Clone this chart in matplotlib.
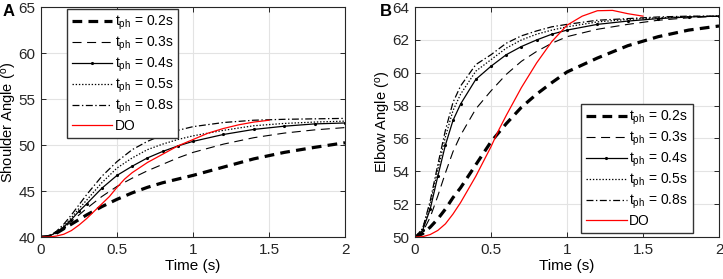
# -*- coding: utf-8 -*-
"""
Shoulder and elbow angle vs. time for several t_ph values and DO.
"""
import matplotlib
matplotlib.use('Agg')
import matplotlib.pyplot as plt

plt.rcParams['font.family'] = ['Liberation Sans', 'DejaVu Sans']
plt.rcParams['mathtext.fontset'] = 'custom'
plt.rcParams['mathtext.rm'] = 'Liberation Sans'
plt.rcParams['mathtext.it'] = 'Liberation Sans'
plt.rcParams['lines.scale_dashes'] = False

# time samples (s)
t = [0, 0.05, 0.1, 0.15, 0.2, 0.25, 0.3, 0.4, 0.5, 0.6, 0.7, 0.8, 0.9, 1.0, 1.2, 1.4, 1.6, 1.8, 2.0]
t_do = [0, 0.05, 0.1, 0.15, 0.2, 0.25, 0.3, 0.35, 0.4, 0.45, 0.5, 0.55, 0.6, 0.7, 0.8, 0.9, 1.0, 1.1, 1.2, 1.3, 1.4, 1.5]

# Shoulder angle (deg)
sh_02 = [40, 40.05, 40.4, 40.9, 41.4, 41.9, 42.4, 43.3, 44.1, 44.8, 45.4, 45.9, 46.3, 46.7, 47.6, 48.5, 49.2, 49.75, 50.25]
sh_03 = [40, 40.05, 40.4, 41.0, 41.7, 42.4, 43.1, 44.4, 45.5, 46.4, 47.2, 47.9, 48.6, 49.2, 50.1, 50.8, 51.3, 51.65, 51.9]
sh_04 = [40, 40.05, 40.5, 41.1, 41.9, 42.8, 43.6, 45.3, 46.7, 47.7, 48.6, 49.3, 49.9, 50.4, 51.15, 51.7, 52.05, 52.3, 52.4]
sh_05 = [40, 40.05, 40.5, 41.2, 42.1, 43.1, 44.0, 45.9, 47.5, 48.6, 49.5, 50.1, 50.6, 51.0, 51.6, 52.1, 52.35, 52.5, 52.6]
sh_08 = [40, 40.1, 40.6, 41.4, 42.4, 43.5, 44.6, 46.6, 48.2, 49.5, 50.4, 51.1, 51.6, 52.0, 52.45, 52.7, 52.8, 52.85, 52.9]
sh_do = [40, 40.0, 40.1, 40.3, 40.7, 41.3, 42.0, 42.8, 43.6, 44.4, 45.4, 46.3, 47.0, 48.1, 49.0, 49.9,
         50.6, 51.3, 51.8, 52.2, 52.5, 52.7]

# Elbow angle (deg)
el_02 = [50, 50.2, 50.6, 51.1, 51.7, 52.4, 53.0, 54.4, 55.8, 56.9, 57.9, 58.7, 59.4, 60.05, 60.9, 61.65, 62.2, 62.6, 62.85]
el_03 = [50, 50.3, 51.2, 52.5, 53.9, 55.2, 56.2, 57.8, 58.9, 59.9, 60.7, 61.3, 61.8, 62.2, 62.65, 62.95, 63.2, 63.35, 63.45]
el_04 = [50, 50.4, 51.7, 53.7, 55.6, 57.1, 58.1, 59.6, 60.4, 61.1, 61.6, 62.0, 62.35, 62.6, 62.95, 63.15, 63.3, 63.4, 63.45]
el_05 = [50, 50.5, 52.0, 54.1, 56.1, 57.7, 58.7, 60.1, 60.8, 61.5, 62.0, 62.35, 62.6, 62.8, 63.1, 63.25, 63.35, 63.42, 63.45]
el_08 = [50, 50.5, 52.2, 54.4, 56.5, 58.2, 59.2, 60.5, 61.1, 61.8, 62.25, 62.55, 62.8, 62.95, 63.2, 63.3, 63.4, 63.45, 63.45]
el_do = [50, 50.02, 50.15, 50.4, 50.8, 51.4, 52.1, 52.9, 53.7, 54.6, 55.5, 56.5, 57.4, 59.1, 60.6, 61.9,
         62.9, 63.45, 63.78, 63.8, 63.6, 63.45]

labels = [r'$\mathregular{t_{ph}}$ = 0.2s', r'$\mathregular{t_{ph}}$ = 0.3s', r'$\mathregular{t_{ph}}$ = 0.4s',
          r'$\mathregular{t_{ph}}$ = 0.5s', r'$\mathregular{t_{ph}}$ = 0.8s', 'DO']


def draw(ax, curves, do_vals, ylim, yticks, ylabel, label_x):
    ax.plot(t, curves[0], color='black', lw=2.3, dashes=(7, 4.5), label=labels[0])
    ax.plot(t, curves[1], color='black', lw=0.8, dashes=(6.5, 4), label=labels[1])
    ax.plot(t, curves[2], color='black', lw=0.9, marker='.', markersize=2.5, label=labels[2])
    ax.plot(t, curves[3], color='black', lw=0.9, dashes=(1, 1.3), label=labels[3])
    ax.plot(t, curves[4], color='black', lw=0.9, dashes=(5, 1.8, 1, 1.8), label=labels[4])
    ax.plot(t_do, do_vals, color='red', lw=0.9, label=labels[5])
    ax.set_xlim(0, 2)
    ax.set_ylim(*ylim)
    ax.set_xticks([0, 0.5, 1, 1.5, 2])
    ax.set_xticklabels(['0', '0.5', '1', '1.5', '2'])
    ax.set_yticks(yticks)
    ax.grid(True, color='#e3e3e3', lw=0.8)
    ax.set_axisbelow(True)
    ax.tick_params(direction='in', top=True, right=True, length=3.5, width=0.7,
                   labelsize=11, colors='#262626', pad=4)
    for s in ax.spines.values():
        s.set_color('#262626')
        s.set_linewidth(0.8)
    ax.set_xlabel('Time (s)', fontsize=11, labelpad=2)
    ax.set_ylabel(ylabel, fontsize=10.5)
    ax.yaxis.set_label_coords(label_x, 0.5)


fig = plt.figure(figsize=(7.23, 2.79), dpi=100)
ax1 = fig.add_axes([0.0567, 0.1505, 0.4205, 0.824])
ax2 = fig.add_axes([0.574, 0.1505, 0.4205, 0.824])

draw(ax1, [sh_02, sh_03, sh_04, sh_05, sh_08], sh_do, (40, 65), [40, 45, 50, 55, 60, 65],
     r'Shoulder Angle ($\mathregular{^o}$)', -0.073)
draw(ax2, [el_02, el_03, el_04, el_05, el_08], el_do, (50, 64), [50, 52, 54, 56, 58, 60, 62, 64],
     r'Elbow Angle ($\mathregular{^o}$)', -0.074)

leg_kw = dict(fontsize=10, handlelength=2.9, handletextpad=0.2, labelspacing=0.2,
              borderpad=0.35, borderaxespad=0, fancybox=False, framealpha=1)
leg1 = ax1.legend(loc='upper left', bbox_to_anchor=(0.085, 0.993), **leg_kw)
leg2 = ax2.legend(loc='lower right', bbox_to_anchor=(0.914, 0.017), **leg_kw)
for leg in (leg1, leg2):
    leg.get_frame().set_edgecolor('#333333')
    leg.get_frame().set_linewidth(1.0)

fig.text(0.004, 0.985, 'A', fontsize=12, fontweight='bold', va='top', ha='left')
fig.text(0.526, 0.985, 'B', fontsize=12, fontweight='bold', va='top', ha='left')

plt.savefig('out.png', dpi=100)
